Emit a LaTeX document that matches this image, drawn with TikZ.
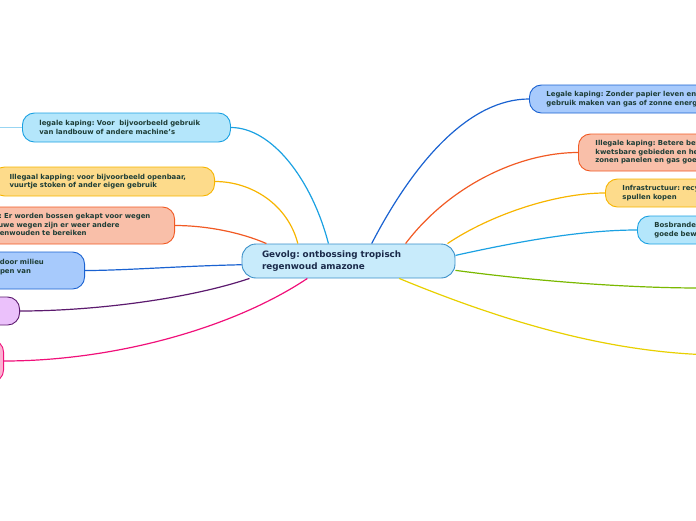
\documentclass[tikz,border=0pt]{standalone}
\usepackage{fontspec}
\setmainfont{DejaVu Sans}
\frenchspacing

\definecolor{cyanline}{HTML}{1BA1E2}
\definecolor{cyanfill}{HTML}{B4E6FB}
\definecolor{goldline}{HTML}{F7B500}
\definecolor{goldfill}{HTML}{FDDB8B}
\definecolor{redline}{HTML}{F15A24}
\definecolor{redfill}{HTML}{F9BFA9}
\definecolor{blueline}{HTML}{1A62D1}
\definecolor{bluefill}{HTML}{A7CAFC}
\definecolor{purpleline}{HTML}{5C1A6E}
\definecolor{purplefill}{HTML}{EBC1FB}
\definecolor{pinkline}{HTML}{F0107A}
\definecolor{pinkfill}{HTML}{FBB1D2}
\definecolor{greenline}{HTML}{7AB800}
\definecolor{yellowline}{HTML}{E8D000}
\definecolor{centerfill}{HTML}{C8EBFB}
\definecolor{centerline}{HTML}{3A8FC8}
\definecolor{leaftext}{HTML}{1D3D36}
\definecolor{centertext}{HTML}{1A2A4A}

\begin{document}
\begin{tikzpicture}[x=1pt, y=-1pt,
    topic/.style={draw=centerline, fill=centerfill, rounded corners=14pt, line width=0.9pt,
      inner xsep=20pt, inner ysep=0pt, minimum height=34pt, text width=173pt, align=left,
      font=\fontsize{8.8}{11.5}\selectfont\bfseries, text=centertext},
    leaf/.style={rounded corners=12pt, line width=0.9pt, inner xsep=17pt, inner ysep=0pt,
      align=left, font=\fontsize{6.9}{8.6}\selectfont\bfseries, text=leaftext},
    branch/.style={line width=1.2pt}]
  \useasboundingbox (0,0) rectangle (696,520);
  \clip (0,0) rectangle (696,520);

  % central topic
  \node[topic] (c) at (348.5,261) {Gevolg: ontbossing tropisch\\regenwoud amazone};

  % left side
  \node[leaf, draw=cyanline, fill=cyanfill, text width=174pt, minimum height=29pt, anchor=west]
    (l1) at (22,127.5) {legale kaping: Voor\ \ bijvoorbeeld gebruik\\van landbouw of andere machine's};
  \node[leaf, draw=goldline, fill=goldfill, text width=188pt, minimum height=29pt, anchor=east]
    (l2) at (215,181.5) {Illegaal kapping: voor bijvoorbeeld openbaar,\\vuurtje stoken of ander eigen gebruik};
  \node[leaf, draw=redline, fill=redfill, text width=185pt, minimum height=37pt, anchor=east]
    (l3) at (175,225.5) {Wegen: Er worden bossen gekapt voor wegen\\via nieuwe wegen zijn er weer andere\\om regenwouden te bereiken};
  \node[leaf, draw=blueline, fill=bluefill, text width=150pt, minimum height=37pt, anchor=east]
    (l4) at (85,270.5) {Klimaatverandering: door milieu\\vervuiling en het kappen van\\bomen};
  \node[leaf, draw=purpleline, fill=purplefill, minimum width=120pt, minimum height=28pt, anchor=east]
    (l5) at (20,311) {};
  \node[leaf, draw=pinkline, fill=pinkfill, minimum width=120pt, minimum height=42pt, anchor=east]
    (l6) at (4,361) {};

  % right side
  \node[leaf, draw=blueline, fill=bluefill, text width=190pt, minimum height=28pt, anchor=west]
    (r1) at (529,99) {Legale kaping: Zonder papier leven en\\gebruik maken van gas of zonne energie};
  \node[leaf, draw=redline, fill=redfill, text width=190pt, minimum height=37pt, anchor=west]
    (r2) at (578,152.5) {Illegale kaping: Betere bewaking van\\kwetsbare gebieden en het gebruik van\\zonen panelen en gas goedkoper maken};
  \node[leaf, draw=goldline, fill=goldfill, text width=190pt, minimum height=28pt, anchor=west]
    (r3) at (605,193) {Infrastructuur: recyclen en tweedehands\\spullen kopen};
  \node[leaf, draw=cyanline, fill=cyanfill, text width=190pt, minimum height=28pt, anchor=west]
    (r4) at (637,230) {Bosbranden: vuurtjes alleen met\\goede bewaking};

  \coordinate (l1out) at (-10,127.5);
  \coordinate (gout) at (700,288);
  \coordinate (yout) at (700,354.5);

  % connectors
  \draw[branch, cyanline!45] (l1.west) -- (l1out);
  \draw[branch, cyanline] (c.139) .. controls (312,180) and (272,127.5) .. (l1.east);
  \draw[branch, goldline] (c.161) .. controls (288,205) and (252,181.5) .. (l2.east);
  \draw[branch, redline] (c.168) .. controls (240,232) and (205,225.5) .. (l3.east);
  \draw[branch, blueline] (c.182) .. controls (180,266) and (125,270.5) .. (l4.east);
  \draw[branch, purpleline] (c.190) .. controls (185,300) and (90,311) .. (l5.east);
  \draw[branch, pinkline] (c.203) .. controls (230,330) and (110,361) .. (l6.east);
  \draw[branch, blueline] (c.37) .. controls (415,160) and (470,99) .. (r1.west);
  \draw[branch, redline] (c.17) .. controls (450,185) and (520,152.5) .. (r2.west);
  \draw[branch, goldline] (c.10) .. controls (490,215) and (555,193) .. (r3.west);
  \draw[branch, cyanline] (c.3) .. controls (525,240) and (585,230) .. (r4.west);
  \draw[branch, greenline] (c.355) .. controls (550,283) and (640,288) .. (gout);
  \draw[branch, yellowline] (c.341) .. controls (500,320) and (600,350) .. (yout);
\end{tikzpicture}
\end{document}
